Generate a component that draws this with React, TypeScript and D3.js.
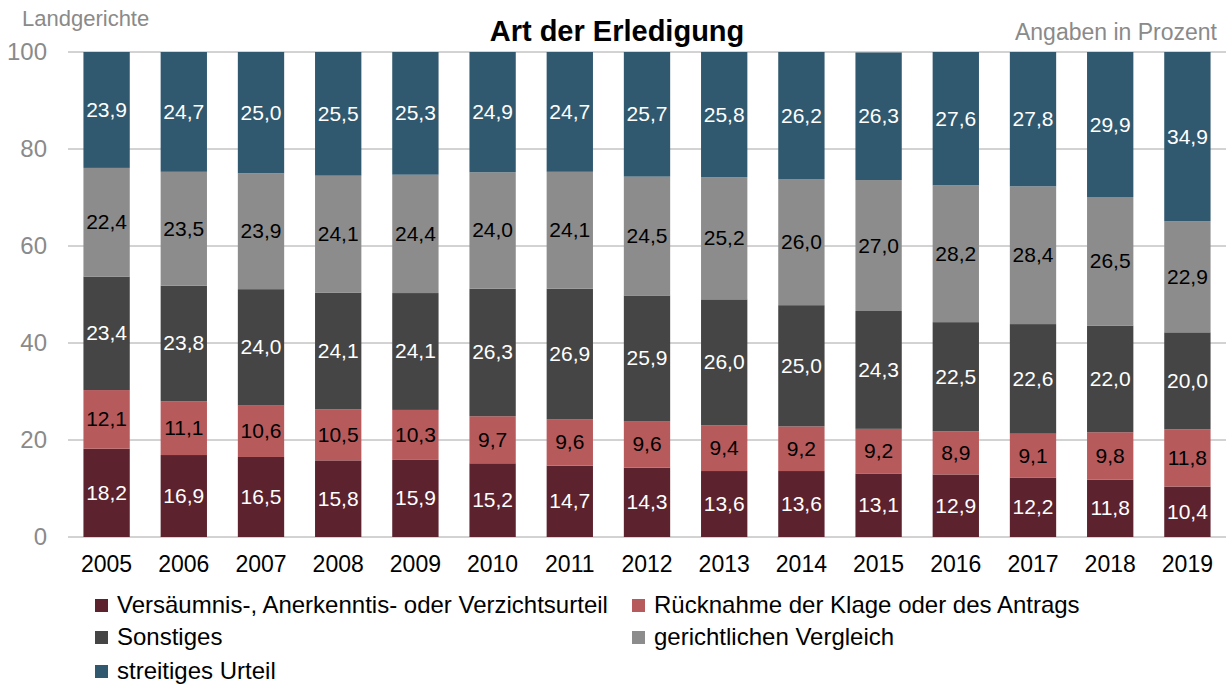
import React from 'react';
import * as d3 from 'd3';

const years = ['2005', '2006', '2007', '2008', '2009', '2010', '2011', '2012', '2013', '2014', '2015', '2016', '2017', '2018', '2019'];

const versaeumnis = [18.2, 16.9, 16.5, 15.8, 15.9, 15.2, 14.7, 14.3, 13.6, 13.6, 13.1, 12.9, 12.2, 11.8, 10.4];
const ruecknahme = [12.1, 11.1, 10.6, 10.5, 10.3, 9.7, 9.6, 9.6, 9.4, 9.2, 9.2, 8.9, 9.1, 9.8, 11.8];
const sonstiges = [23.4, 23.8, 24.0, 24.1, 24.1, 26.3, 26.9, 25.9, 26.0, 25.0, 24.3, 22.5, 22.6, 22.0, 20.0];
const vergleich = [22.4, 23.5, 23.9, 24.1, 24.4, 24.0, 24.1, 24.5, 25.2, 26.0, 27.0, 28.2, 28.4, 26.5, 22.9];
const streitig = [23.9, 24.7, 25.0, 25.5, 25.3, 24.9, 24.7, 25.7, 25.8, 26.2, 26.3, 27.6, 27.8, 29.9, 34.9];

const seriesNames = [
  'Versäumnis-, Anerkenntis- oder Verzichtsurteil',
  'Rücknahme der Klage oder des Antrags',
  'Sonstiges',
  'gerichtlichen Vergleich',
  'streitiges Urteil',
];
const seriesValues = [versaeumnis, ruecknahme, sonstiges, vergleich, streitig];
const colors = ['#5c222d', '#b75a5c', '#454545', '#8c8c8c', '#30596f'];
const labelColors = ['#fff', '#000', '#fff', '#000', '#fff'];
const yTicks = [0, 20, 40, 60, 80, 100];

const W = 1226;
const H = 686;
const font = '"Liberation Sans", Arial, sans-serif';

export default function App() {
  const x = d3.scaleBand().domain(years).range([68, 1226]).paddingInner(0.4).paddingOuter(0.2);
  const y = d3.scaleLinear().domain([0, 100]).range([537, 52]);

  const rows = years.map((yr, i) => {
    const r: any = { year: yr };
    seriesNames.forEach((s, k) => (r[s] = seriesValues[k][i]));
    return r;
  });
  const stacked = d3.stack<any>().keys(seriesNames)(rows);
  const fmt = (v: number) => v.toFixed(1).replace('.', ',');

  const legendPos = [
    [95, 605],
    [632, 605],
    [95, 637],
    [632, 637],
    [95, 671],
  ];

  return (
    <svg width={W} height={H} style={{ position: 'absolute', left: 0, top: 0 }} fontFamily={font}>
      <rect width={W} height={H} fill="#fff" />
      <text x={22} y={26} fontSize={22} fill="#8a8a8a">Landgerichte</text>
      <text x={617} y={41} fontSize={29} fontWeight="bold" textAnchor="middle" fill="#000">Art der Erledigung</text>
      <text x={1217} y={40} fontSize={23} textAnchor="end" fill="#8a8a8a">Angaben in Prozent</text>

      {yTicks.map((t) => (
        <g key={t}>
          <line x1={68} x2={1226} y1={y(t)} y2={y(t)} stroke="#a6a6a6" strokeWidth={1} />
          <text x={47} y={y(t) + 8} fontSize={24} textAnchor="end" fill="#8a8a8a">{t}</text>
        </g>
      ))}

      {stacked.map((layer, k) => (
        <g key={layer.key}>
          {layer.map((d, i) => (
            <g key={i}>
              <rect
                x={x(years[i])}
                y={y(Math.min(d[1], 100))}
                width={x.bandwidth()}
                height={y(d[0]) - y(Math.min(d[1], 100))}
                fill={colors[k]}
              />
              <text
                x={(x(years[i]) as number) + x.bandwidth() / 2}
                y={y((d[0] + Math.min(d[1], 100)) / 2) + 7}
                fontSize={21}
                textAnchor="middle"
                fill={labelColors[k]}
              >
                {fmt(seriesValues[k][i])}
              </text>
            </g>
          ))}
        </g>
      ))}

      {years.map((yr) => (
        <text key={yr} x={(x(yr) as number) + x.bandwidth() / 2} y={572} fontSize={23} textAnchor="middle" fill="#000">
          {yr}
        </text>
      ))}

      {seriesNames.map((s, k) => (
        <g key={s} transform={`translate(${legendPos[k][0]},${legendPos[k][1]})`}>
          <rect x={0} y={-6} width={13} height={13} fill={colors[k]} />
          <text x={22} y={8} fontSize={24} fill="#000">{s}</text>
        </g>
      ))}
    </svg>
  );
}
